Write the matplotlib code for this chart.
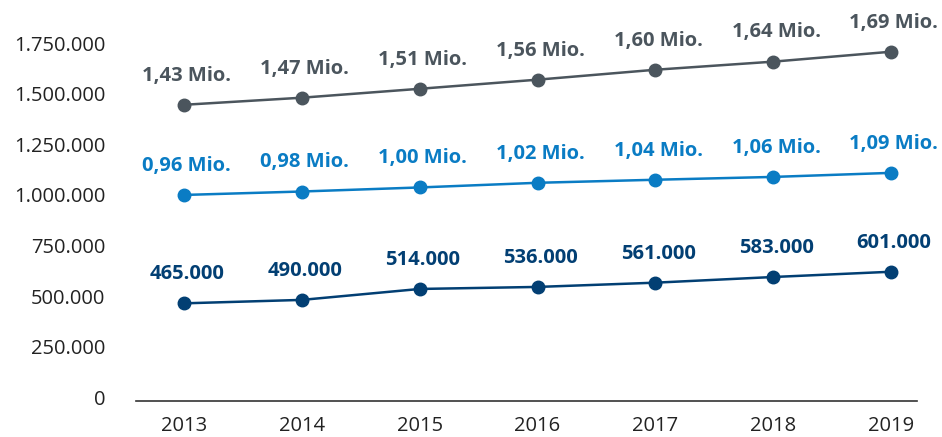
import matplotlib.pyplot as plt
from matplotlib.ticker import FuncFormatter

years = [2013, 2014, 2015, 2016, 2017, 2018, 2019]

total = [1445000, 1480000, 1524000, 1569000, 1618000, 1658000, 1707000]
middle = [1000000, 1017000, 1037000, 1060000, 1075000, 1089000, 1109000]
lower = [465000, 482000, 536000, 546000, 567000, 595000, 621000]

# printed labels
total_labels = ["1,43 Mio.", "1,47 Mio.", "1,51 Mio.", "1,56 Mio.", "1,60 Mio.", "1,64 Mio.", "1,69 Mio."]
middle_labels = ["0,96 Mio.", "0,98 Mio.", "1,00 Mio.", "1,02 Mio.", "1,04 Mio.", "1,06 Mio.", "1,09 Mio."]
lower_labels = ["465.000", "490.000", "514.000", "536.000", "561.000", "583.000", "601.000"]

y_ticks = [0, 250000, 500000, 750000, 1000000, 1250000, 1500000, 1750000]

plt.rcParams["font.family"] = ["Open Sans", "DejaVu Sans"]

fig = plt.figure(figsize=(9.42, 4.37), dpi=100)
ax = fig.add_axes([0.1444, 0.0824, 0.8291, 0.8192])

series = [
    (total, total_labels, "#4b555d"),
    (middle, middle_labels, "#0a7cc4"),
    (lower, lower_labels, "#023f73"),
]
for vals, labels, col in series:
    ax.plot(years, vals, color=col, lw=1.8, marker="o", ms=9, clip_on=False)
    for x, v, lab in zip(years, vals, labels):
        ax.annotate(lab, (x, v), xytext=(2, 21), textcoords="offset points",
                    ha="center", va="center", fontsize=14.5, fontweight="bold",
                    color=col, annotation_clip=False)

ax.set_xlim(2013 - 0.407, 2019 + 0.22)
ax.set_ylim(-17000, 1750000)
ax.set_xticks(years)
ax.set_yticks(y_ticks)
ax.yaxis.set_major_formatter(FuncFormatter(lambda v, p: f"{int(v):,}".replace(",", ".")))

for s in ["top", "right", "left"]:
    ax.spines[s].set_visible(False)
ax.spines["bottom"].set_color("#333333")
ax.spines["bottom"].set_linewidth(1.2)
ax.tick_params(axis="y", length=0, pad=22, labelsize=14.5, labelcolor="#222222")
ax.tick_params(axis="x", length=0, pad=11, labelsize=14.5, labelcolor="#222222")

plt.savefig("out.png", dpi=100)
plt.close(fig)
